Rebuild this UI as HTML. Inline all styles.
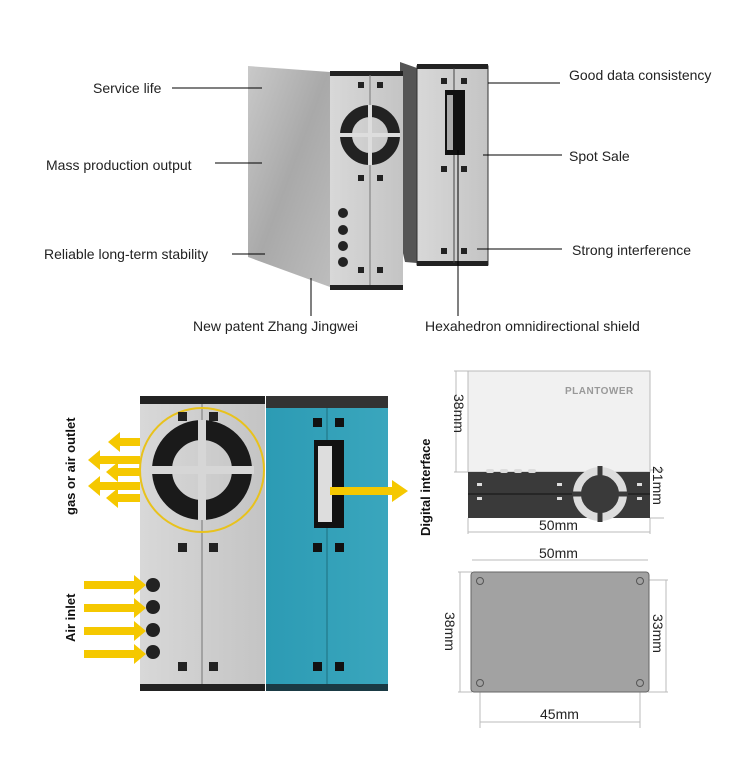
<!DOCTYPE html>
<html><head><style>body{margin:0;background:#fff}svg{display:block}text{font-family:"Liberation Sans",sans-serif}</style></head>
<body>
<svg width="750" height="760" viewBox="0 0 750 760" xmlns="http://www.w3.org/2000/svg">
<defs>
<linearGradient id="met" x1="0" x2="1" y1="0" y2="1"><stop offset="0" stop-color="#c9c9c9"/><stop offset=".5" stop-color="#a9a9a9"/><stop offset="1" stop-color="#bdbdbd"/></linearGradient>
<linearGradient id="fr" x1="0" x2="1"><stop offset="0" stop-color="#d8d8d8"/><stop offset="1" stop-color="#c4c4c4"/></linearGradient>
<linearGradient id="teal" x1="0" x2="1"><stop offset="0" stop-color="#2c9bb4"/><stop offset="1" stop-color="#3aa6bd"/></linearGradient>
</defs>
<polygon points="400,62 417,68 417,263 405,262 400,240" fill="#555"/>
<rect x="417" y="66" width="71" height="199" fill="url(#fr)" stroke="#333" stroke-width="1"/>
<rect x="417" y="64" width="71" height="5" fill="#222"/>
<rect x="417" y="261" width="71" height="5" fill="#222"/>
<line x1="454" y1="68" x2="454" y2="263" stroke="#444"/>
<rect x="445" y="90" width="20" height="65" fill="#111"/>
<rect x="447" y="95" width="6" height="55" fill="#aaa"/>
<g fill="#222"><rect x="441" y="78" width="6" height="6"/><rect x="461" y="78" width="6" height="6"/><rect x="441" y="166" width="6" height="6"/><rect x="461" y="166" width="6" height="6"/><rect x="441" y="248" width="6" height="6"/><rect x="461" y="248" width="6" height="6"/></g>
<polygon points="248,66 330,72 330,287 248,257" fill="url(#met)"/>
<rect x="330" y="73" width="73" height="214" fill="url(#fr)"/>
<rect x="330" y="71" width="73" height="5" fill="#222"/>
<rect x="330" y="285" width="73" height="5" fill="#222"/>
<line x1="370" y1="75" x2="370" y2="285" stroke="#777"/>
<circle cx="370" cy="135" r="24" fill="none" stroke="#222" stroke-width="12"/>
<g stroke="#ddd" stroke-width="4"><line x1="370" y1="105" x2="370" y2="165"/><line x1="340" y1="135" x2="400" y2="135"/></g>
<g fill="#222"><rect x="358" y="82" width="6" height="6"/><rect x="377" y="82" width="6" height="6"/><rect x="358" y="175" width="6" height="6"/><rect x="377" y="175" width="6" height="6"/><rect x="358" y="267" width="6" height="6"/><rect x="377" y="267" width="6" height="6"/>
<circle cx="343" cy="213" r="5"/><circle cx="343" cy="230" r="5"/><circle cx="343" cy="246" r="5"/><circle cx="343" cy="262" r="5"/></g>
<g stroke="#000" stroke-width="1"><line x1="172" y1="88" x2="262" y2="88"/><line x1="215" y1="163" x2="262" y2="163"/><line x1="232" y1="254" x2="265" y2="254"/><line x1="311" y1="278" x2="311" y2="316"/><line x1="488" y1="83" x2="560" y2="83"/><line x1="483" y1="155" x2="562" y2="155"/><line x1="477" y1="249" x2="562" y2="249"/><line x1="458" y1="150" x2="458" y2="316"/></g>
<g font-size="14" fill="#222">
<text x="93" y="93">Service life</text><text x="46" y="170">Mass production output</text><text x="44" y="259">Reliable long-term stability</text><text x="193" y="331">New patent Zhang Jingwei</text>
<text x="569" y="80">Good data consistency</text><text x="569" y="161">Spot Sale</text><text x="572" y="255">Strong interference</text><text x="425" y="331">Hexahedron omnidirectional shield</text></g>
<rect x="140" y="398" width="125" height="292" fill="url(#fr)"/>
<rect x="140" y="396" width="125" height="8" fill="#222"/>
<rect x="140" y="684" width="125" height="7" fill="#222"/>
<line x1="202" y1="404" x2="202" y2="684" stroke="#777"/>
<circle cx="202" cy="470" r="62" fill="none" stroke="#e8c21c" stroke-width="2"/>
<circle cx="202" cy="470" r="40" fill="none" stroke="#1a1a1a" stroke-width="20"/>
<g stroke="#d6d6d6" stroke-width="8"><line x1="202" y1="420" x2="202" y2="520"/><line x1="150" y1="470" x2="254" y2="470"/></g>
<g fill="#222"><rect x="178" y="412" width="9" height="9"/><rect x="209" y="412" width="9" height="9"/><rect x="178" y="543" width="9" height="9"/><rect x="209" y="543" width="9" height="9"/><rect x="178" y="662" width="9" height="9"/><rect x="209" y="662" width="9" height="9"/>
<circle cx="153" cy="585" r="7"/><circle cx="153" cy="607" r="7"/><circle cx="153" cy="630" r="7"/><circle cx="153" cy="652" r="7"/></g>
<rect x="266" y="398" width="122" height="292" fill="url(#teal)"/>
<rect x="266" y="396" width="122" height="12" fill="#333"/>
<rect x="266" y="684" width="122" height="7" fill="#1a3a44"/>
<line x1="327" y1="408" x2="327" y2="684" stroke="#1d6f80"/>
<rect x="314" y="440" width="30" height="88" fill="#111"/>
<rect x="318" y="446" width="14" height="76" fill="#ddd"/>
<g fill="#111"><rect x="313" y="418" width="9" height="9"/><rect x="335" y="418" width="9" height="9"/><rect x="313" y="543" width="9" height="9"/><rect x="335" y="543" width="9" height="9"/><rect x="313" y="662" width="9" height="9"/><rect x="335" y="662" width="9" height="9"/></g>
<g fill="#f5c800">
<polygon points="140,438 120,438 120,432 108,442 120,452 120,446 140,446"/>
<polygon points="140,456 100,456 100,450 88,460 100,470 100,464 140,464"/>
<polygon points="140,468 118,468 118,462 106,472 118,482 118,476 140,476"/>
<polygon points="140,482 100,482 100,476 88,486 100,496 100,490 140,490"/>
<polygon points="140,494 118,494 118,488 106,498 118,508 118,502 140,502"/>
<polygon points="84,581 134,581 134,575 146,585 134,595 134,589 84,589"/>
<polygon points="84,604 134,604 134,598 146,608 134,618 134,612 84,612"/>
<polygon points="84,627 134,627 134,621 146,631 134,641 134,635 84,635"/>
<polygon points="84,650 134,650 134,644 146,654 134,664 134,658 84,658"/>
<polygon points="330,487 392,487 392,480 408,491 392,502 392,495 330,495"/>
</g>
<g font-size="13" font-weight="bold" fill="#111">
<text transform="translate(75,515) rotate(-90)">gas or air outlet</text>
<text transform="translate(75,642) rotate(-90)">Air inlet</text>
<text transform="translate(430,536) rotate(-90)">Digital interface</text></g>
<rect x="468" y="371" width="182" height="101" fill="#f1f1f1" stroke="#bbb"/>
<text x="565" y="394" font-size="10" font-weight="bold" fill="#999" letter-spacing="0.5">PLANTOWER</text>
<rect x="468" y="472" width="182" height="46" fill="#3a3a3a"/>
<line x1="468" y1="494" x2="650" y2="494" stroke="#111"/>
<g fill="#ddd"><rect x="486" y="469" width="8" height="4" rx="2"/><rect x="500" y="469" width="8" height="4" rx="2"/><rect x="514" y="469" width="8" height="4" rx="2"/><rect x="528" y="469" width="8" height="4" rx="2"/>
<rect x="477" y="483" width="5" height="3"/><rect x="477" y="497" width="5" height="3"/><rect x="557" y="483" width="5" height="3"/><rect x="557" y="497" width="5" height="3"/><rect x="637" y="483" width="5" height="3"/><rect x="637" y="497" width="5" height="3"/></g>
<circle cx="600" cy="494" r="23" fill="none" stroke="#ddd" stroke-width="8"/>
<g stroke="#3a3a3a" stroke-width="5"><line x1="600" y1="466" x2="600" y2="522"/><line x1="572" y1="494" x2="628" y2="494"/></g>
<g stroke="#bbb" stroke-width="1"><line x1="454" y1="371" x2="468" y2="371"/><line x1="454" y1="472" x2="468" y2="472"/><line x1="456" y1="371" x2="456" y2="472"/>
<line x1="650" y1="470" x2="664" y2="470"/><line x1="650" y1="518" x2="664" y2="518"/><line x1="468" y1="518" x2="468" y2="534"/><line x1="650" y1="518" x2="650" y2="534"/><line x1="468" y1="532" x2="650" y2="532"/>
<line x1="472" y1="560" x2="648" y2="560"/><line x1="458" y1="572" x2="472" y2="572"/><line x1="458" y1="692" x2="472" y2="692"/><line x1="460" y1="572" x2="460" y2="692"/>
<line x1="648" y1="580" x2="668" y2="580"/><line x1="648" y1="692" x2="668" y2="692"/><line x1="666" y1="580" x2="666" y2="692"/>
<line x1="480" y1="692" x2="480" y2="728"/><line x1="640" y1="692" x2="640" y2="728"/><line x1="480" y1="722" x2="640" y2="722"/></g>
<rect x="471" y="572" width="178" height="120" rx="3" fill="#a2a2a2" stroke="#666"/>
<g fill="none" stroke="#555"><circle cx="480" cy="581" r="3.5"/><circle cx="640" cy="581" r="3.5"/><circle cx="480" cy="683" r="3.5"/><circle cx="640" cy="683" r="3.5"/></g>
<g font-size="14" fill="#222">
<text transform="translate(454,394) rotate(90)">38mm</text>
<text transform="translate(653,466) rotate(90)">21mm</text>
<text x="539" y="530">50mm</text>
<text x="539" y="558">50mm</text>
<text transform="translate(445,612) rotate(90)">38mm</text>
<text transform="translate(653,614) rotate(90)">33mm</text>
<text x="540" y="719">45mm</text></g>
</svg>
</body></html>
